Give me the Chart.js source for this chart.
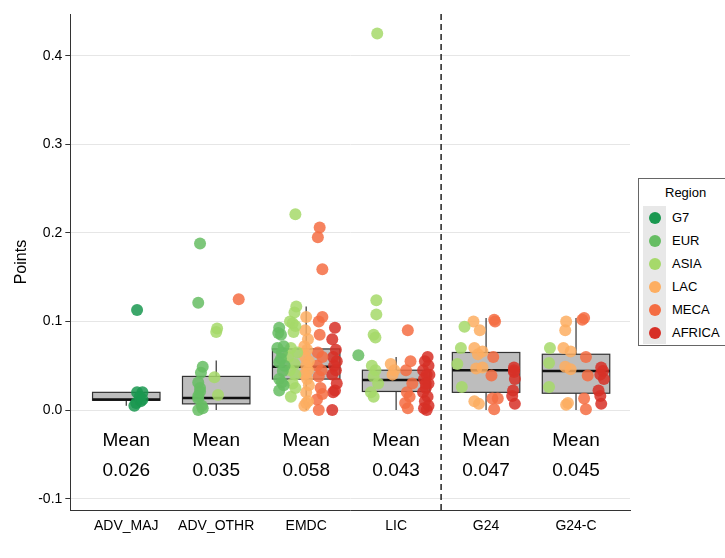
<!DOCTYPE html>
<html><head><meta charset="utf-8">
<script src="https://cdn.jsdelivr.net/npm/chart.js@4/dist/chart.umd.min.js"></script>
<style>
body{margin:0;background:#fff;overflow:hidden;font-family:Arial,"Liberation Sans",sans-serif}
#wrap{position:relative;width:725px;height:558px}
#leg{position:absolute;left:638px;top:178px;width:100px;height:166px;border:1px solid #666;background:#fff;font-size:13px}
#leg .t{margin:6px 0 6px 26px}
#leg .r{height:23px;display:flex;align-items:center}
#leg .d{width:23px;height:23px;background:#e8e8e8;margin:0 6px 0 4px;display:flex;align-items:center;justify-content:center}
#leg .d span{width:12px;height:12px;border-radius:50%}
</style></head><body>
<div id="wrap"><canvas id="c" width="725" height="558"></canvas><div id="leg"></div></div>
<script>
const categories=["ADV_MAJ","ADV_OTHR","EMDC","LIC","G24","G24-C"];
const means=["0.026","0.035","0.058","0.043","0.047","0.045"];
// box stats: [whiskerLow, q1, median, q3, whiskerHigh]
const boxStats=[[0.005,0.011,0.012,0.020,0.020],[0.0,0.007,0.0135,0.038,0.056],[0.0,0.035,0.049,0.069,0.117],[0.0,0.021,0.034,0.045,0.06],[0.0,0.020,0.045,0.065,0.104],[0.0,0.019,0.044,0.063,0.104]];
const regions=["G7","EUR","ASIA","LAC","MECA","AFRICA"];
const regionColors=["#1a9850","#66bd63","#a6d96a","#fdae61","#f46d43","#d73027"];
// points: [categoryIndex(1-based), jitter offset, value]
const G7=[[1,0.12,0.113],[1,0.12,0.020],[1,0.18,0.020],[1,0.15,0.015],[1,0.16,0.010],[1,0.09,0.005],[1,0.11,0.008],[1,0.18,0.012]];
const EUR=[[2,-0.18,0.188],[2,-0.2,0.121],[2,-0.15,0.049],[2,-0.17,0.042],[2,-0.2,0.031],[2,-0.18,0.021],[2,-0.2,0.013],[2,-0.16,0.005],[2,-0.2,0.0],[2,-0.15,0.002],[2,-0.18,0.025],[2,-0.2,0.016],
[3,-0.3,0.093],[3,-0.31,0.087],[3,-0.28,0.085],[3,-0.27,0.065],[3,-0.3,0.054],[3,-0.26,0.044],[3,-0.3,0.035],[3,-0.27,0.031],[3,-0.3,0.022],[3,-0.25,0.028],[3,-0.28,0.058],[3,-0.25,0.072],[3,-0.32,0.07],[3,-0.24,0.05],
[4,-0.42,0.062]];
const ASIA=[[2,0.01,0.092],[2,0.0,0.088],[2,-0.02,0.037],[2,0.02,0.017],
[3,-0.12,0.221],[3,-0.11,0.117],[3,-0.13,0.110],[3,-0.18,0.100],[3,-0.15,0.098],[3,-0.12,0.095],[3,-0.14,0.088],[3,-0.17,0.070],[3,-0.1,0.065],[3,-0.2,0.060],[3,-0.13,0.052],[3,-0.18,0.045],[3,-0.12,0.040],[3,-0.15,0.030],[3,-0.12,0.025],[3,-0.17,0.015],
[4,-0.21,0.425],[4,-0.22,0.124],[4,-0.22,0.108],[4,-0.25,0.085],[4,-0.23,0.082],[4,-0.27,0.050],[4,-0.23,0.045],[4,-0.25,0.038],[4,-0.2,0.030],[4,-0.28,0.020],[4,-0.25,0.015],
[5,-0.24,0.094],[5,-0.28,0.070],[5,-0.32,0.052],[5,-0.27,0.026],
[6,-0.29,0.070],[6,-0.3,0.053],[6,-0.3,0.026]];
const LAC=[[3,0.0,0.105],[3,-0.01,0.090],[3,0.02,0.080],[3,-0.02,0.072],[3,0.01,0.068],[3,-0.01,0.060],[3,0.03,0.055],[3,0.0,0.050],[3,0.02,0.045],[3,-0.02,0.040],[3,0.01,0.035],[3,0.03,0.028],[3,0.0,0.020],[3,0.02,0.010],[3,-0.02,0.005],[3,0.0,0.008],
[4,-0.06,0.052],[4,-0.02,0.045],[4,-0.04,0.040],
[5,-0.14,0.100],[5,-0.07,0.090],[5,-0.13,0.070],[5,-0.09,0.063],[5,-0.04,0.066],[5,-0.11,0.047],[5,-0.04,0.048],[5,-0.13,0.010],[5,-0.08,0.007],
[6,-0.11,0.100],[6,-0.12,0.090],[6,-0.14,0.070],[6,-0.06,0.066],[6,-0.12,0.049],[6,-0.06,0.046],[6,-0.09,0.008],[6,-0.11,0.006]];
const MECA=[[2,0.25,0.125],
[3,0.15,0.206],[3,0.13,0.195],[3,0.18,0.159],[3,0.18,0.105],[3,0.14,0.100],[3,0.15,0.085],[3,0.13,0.065],[3,0.18,0.060],[3,0.12,0.050],[3,0.17,0.045],[3,0.14,0.038],[3,0.16,0.025],[3,0.18,0.018],[3,0.12,0.012],[3,0.14,0.0],
[4,0.13,0.090],[4,0.16,0.055],[4,0.11,0.045],[4,0.18,0.030],[4,0.12,0.020],[4,0.15,0.015],[4,0.1,0.008],[4,0.13,0.002],
[5,0.09,0.102],[5,0.1,0.100],[5,0.08,0.060],[5,0.06,0.039],[5,0.07,0.013],[5,0.13,0.013],[5,0.09,0.001],
[6,0.07,0.102],[6,0.09,0.104],[6,0.11,0.060],[6,0.13,0.039],[6,0.09,0.013],[6,0.11,0.001]];
const AFRICA=[[3,0.32,0.093],[3,0.29,0.080],[3,0.33,0.068],[3,0.3,0.060],[3,0.34,0.055],[3,0.31,0.050],[3,0.33,0.045],[3,0.29,0.040],[3,0.34,0.030],[3,0.32,0.022],[3,0.3,0.020],[3,0.29,0.0],
[4,0.35,0.060],[4,0.32,0.055],[4,0.36,0.050],[4,0.3,0.045],[4,0.34,0.040],[4,0.31,0.035],[4,0.36,0.030],[4,0.33,0.025],[4,0.3,0.020],[4,0.35,0.015],[4,0.32,0.010],[4,0.36,0.005],[4,0.31,0.002],[4,0.34,0.0],[4,0.37,0.040],[4,0.33,0.030],
[5,0.31,0.048],[5,0.31,0.043],[5,0.32,0.035],[5,0.3,0.022],[5,0.29,0.016],[5,0.32,0.007],[5,0.31,0.045],
[6,0.28,0.048],[6,0.3,0.044],[6,0.27,0.040],[6,0.25,0.022],[6,0.27,0.016],[6,0.28,0.007],[6,0.31,0.035]];
const regionPoints=[G7,EUR,ASIA,LAC,MECA,AFRICA];

function hexA(h,a){const n=parseInt(h.slice(1),16);return `rgba(${n>>16},${(n>>8)&255},${n&255},${a})`;}

const boxPlugin={id:'box',beforeDatasetsDraw(ch){
  const {ctx,scales:{x,y}}=ch;ctx.save();
  boxStats.forEach((s,i)=>{
    const c=i+1,xl=x.getPixelForValue(c-0.375),xr=x.getPixelForValue(c+0.375),xc=x.getPixelForValue(c);
    ctx.strokeStyle='#333';ctx.lineWidth=1.2;
    ctx.beginPath();ctx.moveTo(xc,y.getPixelForValue(s[0]));ctx.lineTo(xc,y.getPixelForValue(s[4]));ctx.stroke();
    const yt=y.getPixelForValue(s[3]),yb=y.getPixelForValue(s[1]);
    ctx.fillStyle='#bdbdbd';ctx.fillRect(xl,yt,xr-xl,yb-yt);ctx.strokeRect(xl,yt,xr-xl,yb-yt);
    ctx.lineWidth=2.5;ctx.strokeStyle='#111';const ym=y.getPixelForValue(s[2]);
    ctx.beginPath();ctx.moveTo(xl,ym);ctx.lineTo(xr,ym);ctx.stroke();
  });
  ctx.setLineDash([6,4]);ctx.lineWidth=1.5;ctx.strokeStyle='#222';
  const xs=x.getPixelForValue(4.5);ctx.beginPath();ctx.moveTo(xs,ch.chartArea.top);ctx.lineTo(xs,ch.chartArea.bottom);ctx.stroke();
  ctx.setLineDash([]);
  ctx.fillStyle='#000';ctx.font='19px Arial, "Liberation Sans"';ctx.textAlign='center';ctx.textBaseline='middle';
  means.forEach((m,i)=>{const xc=x.getPixelForValue(i+1);ctx.fillText('Mean',xc,y.getPixelForValue(-0.035));ctx.fillText(m,xc,y.getPixelForValue(-0.068));});
  ctx.restore();
}};

new Chart(document.getElementById('c'),{
  type:'scatter',
  data:{datasets:regions.map((r,i)=>({label:r,data:regionPoints[i].map(p=>({x:p[0]+p[1],y:p[2]})),
    backgroundColor:hexA(regionColors[i],0.85),borderWidth:0,pointRadius:6,pointHoverRadius:6}))},
  options:{responsive:false,animation:false,
    layout:{padding:{left:8,right:95,top:14,bottom:20}},
    plugins:{legend:{display:false},tooltip:{enabled:false}},
    scales:{
      x:{type:'linear',min:0.378,max:6.6,
        afterBuildTicks(a){a.ticks=categories.map((c,i)=>({value:i+1}));},
        ticks:{callback:(v)=>categories[v-1]||'',color:'#000',font:{size:14},autoSkip:false,maxRotation:0},
        grid:{display:false,drawTicks:true,tickLength:5},border:{color:'#333'}},
      y:{min:-0.113,max:0.447,
        afterBuildTicks(a){a.ticks=[-0.1,0,0.1,0.2,0.3,0.4].map(v=>({value:v}));},
        ticks:{callback:v=>v==0?'0.0':v.toFixed(1),color:'#000',font:{size:14}},
        grid:{color:'#e6e6e6',tickLength:5,tickColor:'#333'},border:{color:'#333'},
        title:{display:true,text:'Points',color:'#000',font:{size:16}}}
    }},
  plugins:[boxPlugin]
});
const leg=document.getElementById('leg');
leg.innerHTML='<div class="t">Region</div>'+regions.map((r,i)=>`<div class="r"><div class="d"><span style="background:${regionColors[i]}"></span></div>${r}</div>`).join('');
</script></body></html>
